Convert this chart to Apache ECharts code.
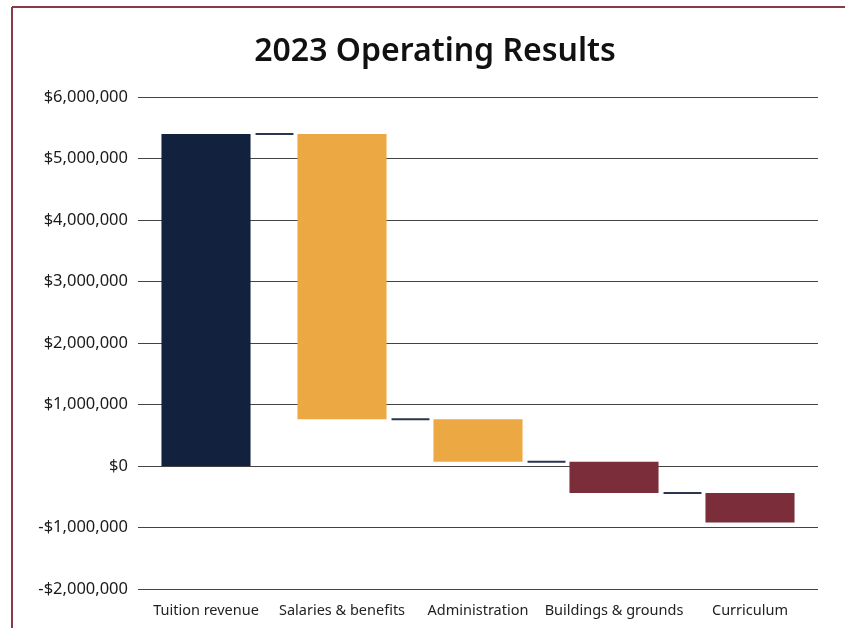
<!DOCTYPE html>
<html>
<head>
<meta charset="utf-8">
<script src="https://cdn.jsdelivr.net/npm/echarts@6/dist/echarts.min.js"></script>
<style>
  html, body { margin: 0; padding: 0; background: #fff; }
  #chart { width: 845px; height: 628px; }
</style>
</head>
<body>
<div id="chart"></div>
<script>
// data
const categories = ["Tuition revenue", "Salaries & benefits", "Administration", "Buildings & grounds", "Curriculum"];
const changes = [5400000, -4640000, -690000, -510000, -480000];
const barColors = ["#12213d", "#eca843", "#eca843", "#7b2d3a", "#7b2d3a"];
const yTicks = [-2000000, 6000000, 1000000]; // min, max, interval

// running totals -> [index, start, end]
let run = 0;
const steps = changes.map((c, i) => {
  const start = run;
  run += c;
  return [i, start, run];
});
// connectors at the end level of each bar, leading to the next one
const links = steps.slice(0, -1).map((s) => [s[0], s[2]]);

const fmt = (v) => {
  const s = "$" + Math.abs(v).toLocaleString("en-US");
  return v < 0 ? "-" + s : s;
};

const chart = echarts.init(document.getElementById("chart"));

chart.setOption({
  animation: false,
  title: {
    text: "2023 Operating Results",
    left: 430,
    top: 31,
    textAlign: "center",
    textStyle: { fontFamily: "Noto Sans", fontWeight: 600, fontSize: 32, color: "#111" },
  },
  grid: { left: 138, right: 27, top: 97, bottom: 39 },
  xAxis: {
    type: "category",
    data: categories,
    axisLine: { show: false },
    axisTick: { show: false },
    axisLabel: { interval: 0, fontFamily: "Noto Sans", fontSize: 14.5, color: "#222", margin: 14 },
  },
  yAxis: {
    type: "value",
    min: yTicks[0],
    max: yTicks[1],
    interval: yTicks[2],
    axisLine: { show: false },
    axisTick: { show: false },
    axisLabel: { fontFamily: "Noto Sans", fontSize: 16.5, color: "#1a1a1a", margin: 10, formatter: fmt },
    splitLine: { lineStyle: { color: "#444", width: 1 } },
  },
  series: [
    {
      type: "custom",
      data: steps,
      encode: { x: 0, y: [1, 2] },
      renderItem: (params, api) => {
        const i = api.value(0);
        const a = api.coord([i, api.value(1)]);
        const b = api.coord([i, api.value(2)]);
        const w = api.size([1, 0])[0] * 0.655;
        return {
          type: "rect",
          shape: { x: a[0] - w / 2, y: Math.min(a[1], b[1]), width: w, height: Math.abs(a[1] - b[1]) },
          style: { fill: barColors[i] },
        };
      },
      z: 3,
    },
    {
      type: "custom",
      data: links,
      encode: { x: 0, y: 1 },
      renderItem: (params, api) => {
        const i = api.value(0);
        const p = api.coord([i, api.value(1)]);
        const band = api.size([1, 0])[0];
        const x1 = p[0] + band * 0.655 / 2 + 5;
        const x2 = p[0] + band - band * 0.655 / 2 - 4;
        return {
          type: "line",
          shape: { x1: x1, y1: p[1], x2: x2, y2: p[1] },
          style: { stroke: "#2b3550", lineWidth: 2 },
        };
      },
      z: 3,
    },
  ],
  graphic: [
    { type: "line", shape: { x1: 12, y1: 7, x2: 845, y2: 7 }, style: { stroke: "#8a3a46", lineWidth: 2 } },
    { type: "line", shape: { x1: 12, y1: 7, x2: 12, y2: 628 }, style: { stroke: "#8a3a46", lineWidth: 2 } },
  ],
});
</script>
</body>
</html>
